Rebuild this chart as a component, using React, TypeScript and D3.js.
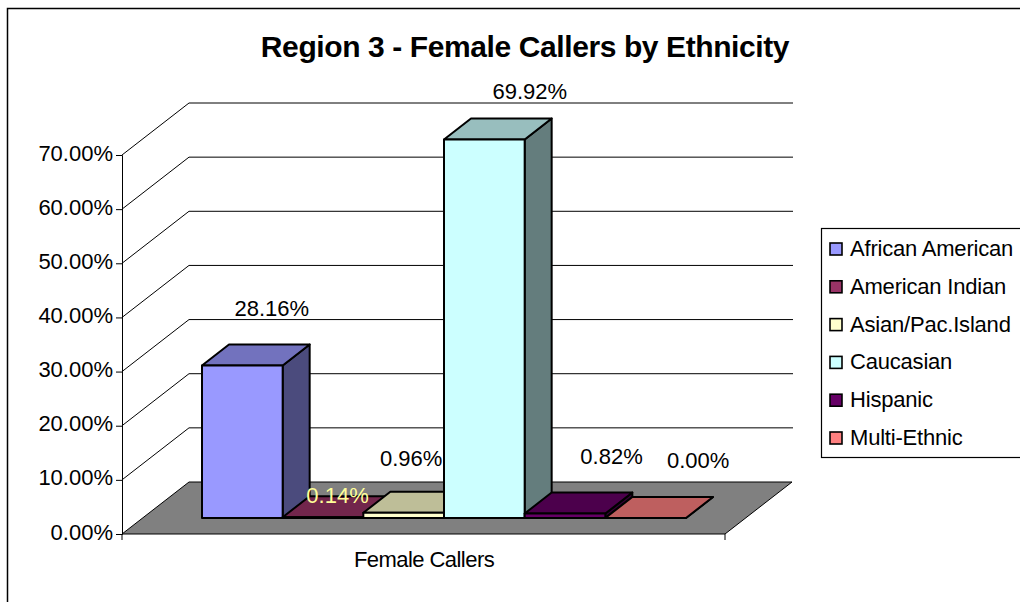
import { useEffect, useRef } from 'react'
import * as d3 from 'd3'

const categories = ['African American', 'American Indian', 'Asian/Pac.Island', 'Caucasian', 'Hispanic', 'Multi-Ethnic']
const values = [28.16, 0.14, 0.96, 69.92, 0.82, 0.0]
const colors = ['#9999FF', '#993366', '#FFFFCC', '#CCFFFF', '#660066', '#FF8080']
const yTicks = [0, 10, 20, 30, 40, 50, 60, 70]

// hand placed data labels, offset from the middle of each bar's top back edge
const labelDx = [16, 1, -6, 32, 33, 39]
const labelDy = [-37, -1, -34, -27, -37, -37]
const labelColors = ['#000', '#FFFF99', '#000', '#000', '#000', '#000']

const font = '"Liberation Sans", Arial, sans-serif'
const FONT_SIZE = 22

// 3D look of the box and the bars
const wallDx = 67
const wallDy = 52
const barDx = 27
const barDy = 21
const barInset = 16

const yScale = d3.scaleLinear().domain([0, 70]).range([534, 155])
const xAxisStart = 122
const xAxisEnd = 725
const xScale = d3.scaleBand().domain(categories).range([202, 686])
const legendY = d3.scalePoint().domain(categories).range([248, 437])

const poly = (pts: [number, number][]) => d3.line()(pts) + 'Z'

export default function App() {
  const axisRef = useRef<SVGGElement>(null)

  useEffect(() => {
    const axis = d3.axisLeft(yScale)
      .tickValues(yTicks)
      .tickSize(6)
      .tickPadding(3)
      .tickFormat(d => d3.format('.2f')(d as number) + '%')
    const g = d3.select(axisRef.current!)
    g.call(axis as any)
    g.selectAll('text')
      .attr('y', -2)
      .attr('font-size', FONT_SIZE)
      .attr('font-family', font)
      .attr('fill', '#000')
    g.select('.domain').attr('stroke', '#000')
    g.selectAll('.tick line').attr('stroke', '#000')
  }, [])

  const y0 = yScale(0)
  const bw = xScale.bandwidth()

  return (
    <svg width={1020} height={602} style={{ position: 'absolute', left: 0, top: 0, background: '#fff' }}>
      <path d="M7.5,602V8.5H1020" fill="none" stroke="#000" strokeWidth={1.5} />

      <text x={525} y={57} textAnchor="middle" fontFamily={font} fontWeight="bold" fontSize={30} letterSpacing="-0.4px">
        Region 3 - Female Callers by Ethnicity
      </text>

      {yTicks.slice(1).map(t => (
        <path
          key={t}
          d={d3.line()([
            [xAxisStart, yScale(t)],
            [xAxisStart + wallDx, yScale(t) - wallDy],
            [xAxisEnd + wallDx + 1, yScale(t) - wallDy],
          ])!}
          fill="none"
          stroke="#000"
          strokeWidth={1}
        />
      ))}

      <path
        d={poly([
          [xAxisStart, y0],
          [xAxisStart + wallDx, y0 - wallDy],
          [xAxisEnd + wallDx, y0 - wallDy],
          [xAxisEnd, y0],
        ])}
        fill="#808080"
        stroke="#000"
        strokeWidth={1}
      />

      <g transform={`translate(${xAxisStart},0)`} ref={axisRef} />
      <path d={`M${xAxisStart},${y0}v6M${xAxisEnd},${y0}v6`} stroke="#000" fill="none" />

      {categories.map((c, i) => {
        const x0 = xScale(c)!
        const x1 = x0 + bw
        const base = y0 - barInset
        const top = yScale(values[i]) - barInset
        const col = d3.color(colors[i])!
        return (
          <g key={c} stroke="#000" strokeWidth={2} strokeLinejoin="round">
            <path
              d={poly([[x1, base], [x1 + barDx, base - barDy], [x1 + barDx, top - barDy], [x1, top]])}
              fill={col.darker(2).formatHex()}
            />
            <path
              d={poly([[x0, top], [x0 + barDx, top - barDy], [x1 + barDx, top - barDy], [x1, top]])}
              fill={col.darker(0.83).formatHex()}
            />
            <rect x={x0} y={top} width={bw} height={base - top} fill={colors[i]} />
          </g>
        )
      })}

      {categories.map((c, i) => (
        <text
          key={c}
          x={xScale(c)! + bw / 2 + barDx / 2 + labelDx[i]}
          y={yScale(values[i]) - barInset - barDy + labelDy[i] + 8}
          textAnchor="middle"
          fontFamily={font}
          fontSize={FONT_SIZE}
          fill={labelColors[i]}
        >
          {d3.format('.2f')(values[i])}%
        </text>
      ))}

      <text x={424} y={567} textAnchor="middle" fontFamily={font} fontSize={FONT_SIZE} letterSpacing="-0.55px">
        Female Callers
      </text>

      <rect x={821.5} y={228.5} width={210} height={229} fill="#fff" stroke="#000" strokeWidth={1.2} />
      {categories.map((c, i) => (
        <g key={c} transform={`translate(0,${legendY(c)})`}>
          <rect x={830} y={-5} width={12} height={12} fill={colors[i]} stroke="#000" strokeWidth={1.6} />
          <text x={850} y={8} fontFamily={font} fontSize={FONT_SIZE} letterSpacing="-0.2px">
            {c}
          </text>
        </g>
      ))}
    </svg>
  )
}
